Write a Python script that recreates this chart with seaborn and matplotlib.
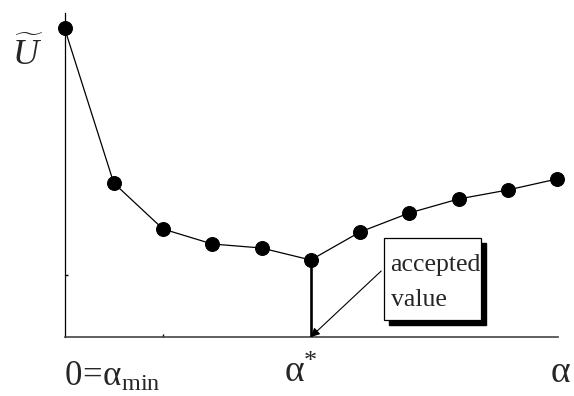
import matplotlib
matplotlib.use("Agg")
import matplotlib.pyplot as plt
import seaborn as sns
import pandas as pd
from matplotlib.patches import Rectangle

# data
alpha_idx = [0, 1, 2, 3, 4, 5, 6, 7, 8, 9, 10]
U_values = [3.09, 1.54, 1.08, 0.93, 0.89, 0.77, 1.05, 1.24, 1.38, 1.47, 1.58]
accepted_idx = 5
label_min = r'$0\!=\!\mathrm{α}_{\mathrm{min}}$'
label_star = r'$\mathrm{α}^{*}$'
label_alpha = r'$\mathrm{α}$'
label_U = r'$\widetilde{U}$'
box_text = ["accepted", "value"]

sns.set_theme(style="white")
plt.rcParams['font.family'] = ['Liberation Serif', 'DejaVu Serif']
plt.rcParams['mathtext.fontset'] = 'custom'
plt.rcParams['mathtext.rm'] = 'Liberation Serif'
plt.rcParams['mathtext.it'] = 'Liberation Serif:italic'

df = pd.DataFrame({"alpha": alpha_idx, "U": U_values})

fig = plt.figure(figsize=(5.74, 3.96), dpi=100)
ax = fig.add_axes([64.5 / 574, 59 / 396, (558 - 64.5) / 574, 324 / 396])

sns.lineplot(data=df, x="alpha", y="U", ax=ax, color="black", linewidth=0.9,
             marker="o", markersize=10, markeredgecolor="black",
             markerfacecolor="black", clip_on=False, zorder=5)

ax.vlines(alpha_idx[accepted_idx], 0, U_values[accepted_idx], color="black",
          linewidth=1.9, zorder=4)

ax.set_xlim(0, 10.02)
ax.set_ylim(0, 3.24)
ax.set_xlabel("")
ax.set_ylabel("")
ax.set_xticks([2])
ax.set_yticks([0.62])
ax.set_xticklabels([])
ax.set_yticklabels([])
ax.tick_params(axis="both", direction="in", length=2, width=1, colors="black",
               left=True, bottom=True)
for s in ["top", "right"]:
    ax.spines[s].set_visible(False)
ax.spines["left"].set_color("black")
ax.spines["left"].set_linewidth(0.9)
ax.spines["bottom"].set_color("#444444")
ax.spines["bottom"].set_linewidth(1.2)
ax.set_facecolor("white")

# accepted value box with shadow
ax.add_patch(Rectangle((6.59, 0.12), 1.96, 0.82, facecolor="black",
                       edgecolor="black", clip_on=False, zorder=6))
ax.add_patch(Rectangle((6.49, 0.17), 1.96, 0.82, facecolor="white",
                       edgecolor="black", linewidth=0.9, clip_on=False, zorder=7))
ax.text(6.62, 0.66, box_text[0], fontsize=18.5, ha="left", va="baseline", zorder=8)
ax.text(6.62, 0.31, box_text[1], fontsize=18.5, ha="left", va="baseline", zorder=8)

ax.annotate("", xy=(alpha_idx[accepted_idx], 0.0), xytext=(6.43, 0.66),
            arrowprops=dict(arrowstyle="-|>", color="black", lw=0.8,
                            mutation_scale=13, shrinkA=0, shrinkB=0),
            zorder=8, annotation_clip=False)

# axis labels
ax.text(0.0, -0.49, label_min, fontsize=25, ha="left", va="baseline", clip_on=False)
ax.text(4.45, -0.45, label_star, fontsize=27, ha="left", va="baseline", clip_on=False)
ax.text(9.85, -0.45, label_alpha, fontsize=27, ha="left", va="baseline", clip_on=False)
ax.text(-1.06, 2.72, label_U, fontsize=26, ha="left", va="baseline", clip_on=False)

fig.savefig("out.png", dpi=100, facecolor="white")
